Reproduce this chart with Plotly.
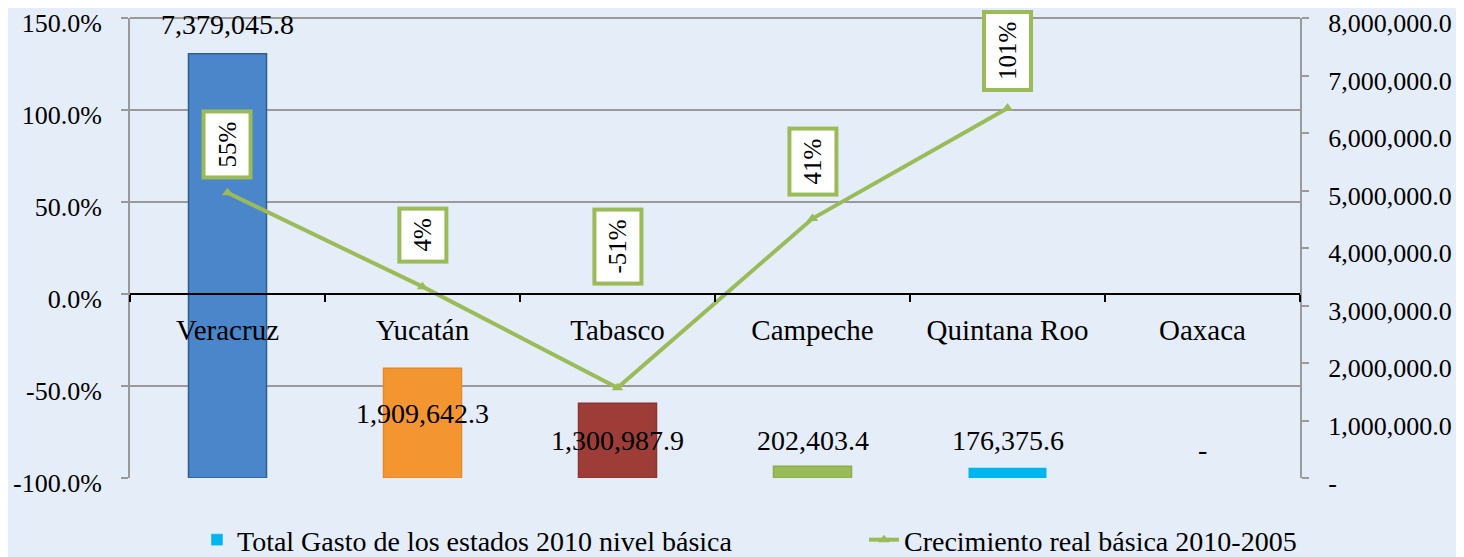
import plotly.graph_objects as go

# ── datos ─────────────────────────────────────────────
estados = ["Veracruz", "Yucatán", "Tabasco", "Campeche", "Quintana Roo", "Oaxaca"]
gasto_2010 = [7379045.8, 1909642.3, 1300987.9, 202403.4, 176375.6, 0]
crecimiento = [0.55, 0.04, -0.51, 0.41, 1.01, None]
colores_barra = ["#4A86C9", "#F39632", "#9E3D38", "#9BBB59", "#00B6EF", "#00B6EF"]
bordes_barra = ["#2E5E96", "#E58A2C", "#8A3430", "#8EAA4E", "#00B6EF", "#00B6EF"]

pct_ticks = [-1.0, -0.5, 0.0, 0.5, 1.0, 1.5]
monto_ticks = [0, 1e6, 2e6, 3e6, 4e6, 5e6, 6e6, 7e6, 8e6]

VERDE = "#9BBB59"
GRIS = "#9A9A9A"
FUENTE = "Liberation Serif"

# posiciones de etiquetas (como en la lámina original)
etiqueta_barra_y = [7.88e6, 1.13e6, 0.66e6, 0.66e6, 0.66e6, 0.49e6]
etiqueta_linea_y = [0.81, 0.32, 0.255, 0.717, 1.318, None]

fig = go.Figure()

# barras en el eje de montos (derecho)
fig.add_trace(go.Bar(
    x=estados, y=gasto_2010, yaxis="y",
    marker=dict(color=colores_barra,
                line=dict(color=bordes_barra, width=[1.5, 1.5, 1.5, 1.5, 0, 0])),
    width=0.4, showlegend=False, hoverinfo="x+y",
))
# entrada de leyenda para la serie de barras
fig.add_trace(go.Bar(
    x=[None], y=[None], yaxis="y", legend="legend",
    name="Total Gasto de los estados 2010 nivel básica",
    marker=dict(color="#00B6EF"),
))
# línea de crecimiento en el eje porcentual (izquierdo)
fig.add_trace(go.Scatter(
    x=estados, y=crecimiento, yaxis="y2", mode="lines+markers", legend="legend2",
    name="Crecimiento real básica 2010-2005",
    line=dict(color=VERDE, width=4),
    marker=dict(symbol="triangle-up", size=10, color=VERDE),
    connectgaps=False,
))

# etiquetas de las barras
for est, v, ly in zip(estados, gasto_2010, etiqueta_barra_y):
    fig.add_annotation(
        x=est, y=ly, xref="x", yref="y",
        text=f"{v:,.1f}" if v else "-",
        showarrow=False, font=dict(family=FUENTE, size=28, color="black"),
    )

# etiquetas de la línea (recuadro verde, texto vertical)
for est, v, ly in zip(estados, crecimiento, etiqueta_linea_y):
    if v is None:
        continue
    fig.add_annotation(
        x=est, y=ly, xref="x", yref="y2",
        text=f"{round(v * 100)}%", textangle=-90,
        showarrow=False, font=dict(family=FUENTE, size=25, color="black"),
        bgcolor="white", bordercolor=VERDE, borderwidth=4, borderpad=8,
    )

# línea superior del área de trazado (la rejilla no la dibuja en el borde)
fig.add_shape(type="line", xref="paper", yref="paper", x0=0, x1=1, y0=1, y1=1,
              line=dict(color=GRIS, width=2), layer="below")

pct_rango = [-1.0, 1.5]
leyenda = dict(
    orientation="h", xref="container", yref="container",
    yanchor="middle", y=0.031, xanchor="left",
    font=dict(family=FUENTE, size=28), bgcolor="rgba(0,0,0,0)",
)
# la página deja 8 px de margen: el lienzo se ajusta a la ventana
fig.update_layout(
    width=1456, height=549,
    margin=dict(l=122, r=164, t=10, b=79),
    paper_bgcolor="#E5EDF8", plot_bgcolor="#E5EDF8",
    font=dict(family=FUENTE, size=26, color="black"),
    barmode="overlay",
    xaxis=dict(
        anchor="free", automargin=False,
        position=(0 - pct_rango[0]) / (pct_rango[1] - pct_rango[0]),
        showline=True, linecolor="black", linewidth=2,
        ticks="outside", tickson="boundaries", ticklen=7, tickcolor="black", tickwidth=2,
        tickfont=dict(size=29), ticklabelstandoff=10,
        showgrid=False,
    ),
    yaxis=dict(
        side="right", range=[0, 8e6], automargin=False,
        tickvals=monto_ticks,
        ticktext=[f"{t:,.1f}" if t else "-" for t in monto_ticks],
        ticklabeloverflow="allow", ticklabelshift=5,
        showgrid=False, zeroline=False,
        showline=True, linecolor=GRIS, linewidth=2,
        ticks="outside", ticklen=7, tickcolor=GRIS, tickwidth=2,
        ticklabelstandoff=14,
    ),
    yaxis2=dict(
        overlaying="y", side="left", range=pct_rango, automargin=False,
        tickvals=pct_ticks,
        ticktext=[f"{t * 100:.1f}%" for t in pct_ticks],
        ticklabeloverflow="allow", ticklabelshift=5,
        showgrid=True, gridcolor=GRIS, gridwidth=2, zeroline=False,
        showline=True, linecolor=GRIS, linewidth=2,
        ticks="outside", ticklen=7, tickcolor=GRIS, tickwidth=2,
        ticklabelstandoff=14,
    ),
    legend=dict(leyenda, x=0.1298),
    legend2=dict(leyenda, x=0.5879),
)

fig.write_html("out.html")
